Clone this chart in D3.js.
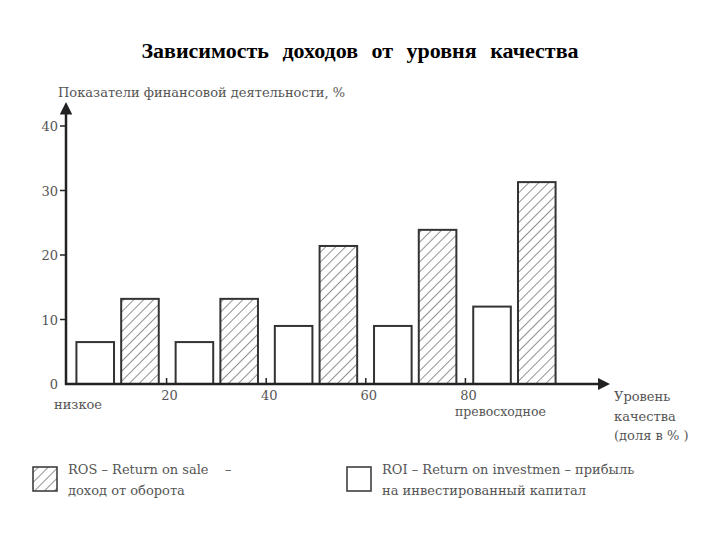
<!DOCTYPE html>
<html>
<head>
<meta charset="utf-8">
<script src="https://d3js.org/d3.v7.min.js"></script>
<style>
body { margin: 0; background: #fff; }
text { font-family: "DejaVu Serif", serif; fill: #555; }
.title { font-family: "Liberation Serif", serif; font-weight: bold; fill: #000; }
.bar { stroke: #333; stroke-width: 2px; }
.axis { stroke: #222; stroke-width: 2.5px; fill: none; }
</style>
</head>
<body>
<svg></svg>
<script>
// groups along the quality axis (percent ranges)
var groups = ["0-20", "20-40", "40-60", "60-80", "80-100"];
var series = ["ROI", "ROS"];
var roi = [6.5, 6.5, 9, 9, 12];
var ros = [13.2, 13.2, 21.4, 23.9, 31.3];
var yTicks = [0, 10, 20, 30, 40];
var xTicks = [20, 40, 60, 80];

var width = 720, height = 540;
var svg = d3.select("svg").attr("width", width).attr("height", height);

var x = d3.scaleLinear().domain([0, 100]).range([67, 565]);
var y = d3.scaleLinear().domain([0, 40]).range([384, 126]);
var xg = d3.scaleBand().domain(groups).range([x(0), x(100)]).paddingInner(0.17).paddingOuter(0.095);
var xs = d3.scaleBand().domain(series).range([0, xg.bandwidth()]).paddingInner(0.16);

// hatch pattern
var defs = svg.append("defs");
defs.append("pattern")
    .attr("id", "hatch")
    .attr("patternUnits", "userSpaceOnUse")
    .attr("width", 7).attr("height", 7)
    .attr("patternTransform", "rotate(45)")
    .append("line")
    .attr("x1", 0).attr("y1", 0).attr("x2", 0).attr("y2", 7)
    .style("stroke", "#555").style("stroke-width", 1.3);
defs.append("marker")
    .attr("id", "arrow")
    .attr("viewBox", "0 0 10 10")
    .attr("refX", 2).attr("refY", 5)
    .attr("markerWidth", 5).attr("markerHeight", 5)
    .attr("markerUnits", "strokeWidth")
    .attr("orient", "auto")
    .append("path").attr("d", "M0,0L10,5L0,10z").style("fill", "#222");

// title
svg.append("text")
    .attr("class", "title")
    .attr("x", 360).attr("y", 58)
    .attr("text-anchor", "middle")
    .style("font-size", "22px")
    .style("word-spacing", "8px")
    .text("Зависимость доходов от уровня качества");

// bars
var rows = groups.map(function(g, i) { return {g: g, ROI: roi[i], ROS: ros[i]}; });
var gg = svg.append("g").selectAll("g")
    .data(rows).enter().append("g")
    .attr("transform", function(d) { return "translate(" + xg(d.g) + ",0)"; });
gg.selectAll("rect")
    .data(function(d) { return series.map(function(s) { return {s: s, v: d[s]}; }); })
    .enter().append("rect")
    .attr("class", "bar")
    .attr("x", function(d) { return xs(d.s); })
    .attr("width", xs.bandwidth())
    .attr("y", function(d) { return y(d.v); })
    .attr("height", function(d) { return y(0) - y(d.v); })
    .style("fill", function(d) { return d.s == "ROS" ? "url(#hatch)" : "#fff"; });

// y axis
svg.append("line").attr("class", "axis")
    .attr("x1", 66).attr("y1", y(0) + 1).attr("x2", 66).attr("y2", 112)
    .attr("marker-end", "url(#arrow)");
svg.append("g").selectAll("line")
    .data(yTicks.slice(1)).enter().append("line")
    .attr("x1", 60).attr("x2", 66)
    .attr("y1", function(d) { return y(d); }).attr("y2", function(d) { return y(d); })
    .style("stroke", "#222").style("stroke-width", 1.5);
svg.append("g").selectAll("text")
    .data(yTicks).enter().append("text")
    .attr("x", 58)
    .attr("y", function(d) { return y(d) + 5; })
    .attr("text-anchor", "end")
    .style("font-size", "13px")
    .text(function(d) { return d; });

// x axis
svg.append("line").attr("class", "axis")
    .attr("x1", 65).attr("y1", y(0)).attr("x2", 600).attr("y2", y(0))
    .attr("marker-end", "url(#arrow)");
svg.append("g").selectAll("line")
    .data(xTicks).enter().append("line")
    .attr("x1", function(d) { return x(d); }).attr("x2", function(d) { return x(d); })
    .attr("y1", y(0) - 6).attr("y2", y(0))
    .style("stroke", "#222").style("stroke-width", 1.5);
svg.append("g").selectAll("text")
    .data(xTicks).enter().append("text")
    .attr("x", function(d) { return x(d) + 3; })
    .attr("y", y(0) + 16)
    .attr("text-anchor", "middle")
    .style("font-size", "13px")
    .text(function(d) { return d; });

svg.append("text").attr("x", 54).attr("y", y(0) + 25)
    .style("font-size", "13px").text("низкое");
svg.append("text").attr("x", 455).attr("y", y(0) + 32)
    .style("font-size", "12.5px").text("превосходное");

// axis labels
svg.append("text").attr("x", 58).attr("y", 97)
    .style("font-size", "13px").text("Показатели финансовой деятельности, %");
var xl = svg.append("text").attr("x", 614).attr("y", 401).style("font-size", "13px");
xl.append("tspan").attr("x", 614).text("Уровень");
xl.append("tspan").attr("x", 614).attr("dy", 20).text("качества");
xl.append("tspan").attr("x", 614).attr("dy", 19).text("(доля в % )");

// legend
var legend = [
    {x: 33, fill: "url(#hatch)", l1: "ROS – Return on sale    –", l2: "доход от оборота"},
    {x: 347, fill: "#fff", l1: "ROI – Return on investmen – прибыль", l2: "на инвестированный капитал"}
];
var lg = svg.append("g").selectAll("g").data(legend).enter().append("g");
lg.append("rect")
    .attr("x", function(d) { return d.x; }).attr("y", 467)
    .attr("width", 24).attr("height", 24)
    .style("fill", function(d) { return d.fill; })
    .style("stroke", "#333").style("stroke-width", 1.5);
lg.append("text")
    .attr("x", function(d) { return d.x + 35; }).attr("y", 474)
    .style("font-size", "13px").style("white-space", "pre")
    .text(function(d) { return d.l1; });
lg.append("text")
    .attr("x", function(d) { return d.x + 35; }).attr("y", 495)
    .style("font-size", "13px")
    .text(function(d) { return d.l2; });
</script>
</body>
</html>
